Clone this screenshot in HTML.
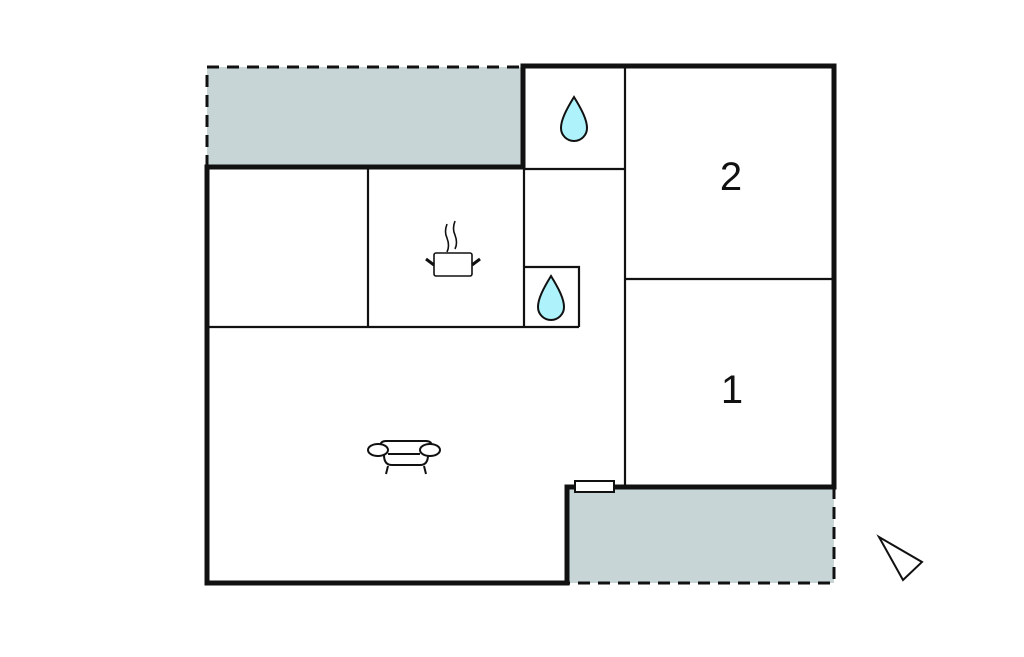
<!DOCTYPE html>
<html><head><style>body{margin:0;background:#fff}</style></head><body>
<svg width="1024" height="652" viewBox="0 0 1024 652" xmlns="http://www.w3.org/2000/svg">
<rect x="207" y="67" width="316" height="100" fill="#c8d5d6"/>
<rect x="567" y="487" width="267" height="96" fill="#c8d5d6"/>
<g stroke="#111" stroke-width="3" stroke-dasharray="12,8" fill="none">
<path d="M207 167 V67 H523"/>
<path d="M834 487 V583 H567"/>
</g>
<g stroke="#111" stroke-width="2.2" fill="none">
<line x1="625" y1="66" x2="625" y2="487"/>
<line x1="368" y1="167" x2="368" y2="327"/>
<line x1="524" y1="167" x2="524" y2="327"/>
<line x1="207" y1="327" x2="579" y2="327"/>
<line x1="524" y1="169" x2="625" y2="169"/>
<path d="M524 267 H579 V327"/>
<line x1="625" y1="279" x2="834" y2="279"/>
</g>
<g stroke="#111" stroke-width="5" fill="none" stroke-linecap="square">
<path d="M207 583 V167 H523 V66 H834 V487 H567 V583 Z"/>
</g>
<rect x="575" y="481" width="39" height="11" fill="#fff" stroke="#111" stroke-width="2"/>
<g stroke="#111" stroke-width="2" fill="#aef3fb">
<path d="M574 97 C566 110 561 120 561 128 A13 13 0 0 0 587 128 C587 120 582 110 574 97 Z"/>
<path d="M551 276 C543 289 538 299 538 307 A13 13 0 0 0 564 307 C564 299 559 289 551 276 Z"/>
</g>
<g stroke="#111" stroke-width="1.6" fill="none">
<rect x="434" y="253" width="38" height="23" rx="2" fill="#fff"/>
<path d="M447 224 q-3 8 0 14 q3 8 0 14 M455 221 q-3 8 0 14 q3 8 0 14"/>
</g>
<g stroke="#111" stroke-width="3"><line x1="434" y1="265" x2="426" y2="259"/><line x1="472" y1="265" x2="480" y2="259"/></g>
<g stroke="#111" stroke-width="2" fill="#fff">
<path d="M380 455 v-8 q0-6 6-6 h40 q6 0 6 6 v8"/>
<path d="M384 455 q0 10 8 10 h28 q8 0 8-10"/>
<ellipse cx="378" cy="450" rx="10" ry="6"/>
<ellipse cx="430" cy="450" rx="10" ry="6"/>
<line x1="388" y1="466" x2="386" y2="474"/><line x1="424" y1="466" x2="426" y2="474"/>
<line x1="388" y1="454" x2="420" y2="454"/>
</g>
<g font-family="Liberation Sans, sans-serif" font-size="40" fill="#111" text-anchor="middle">
<text x="731" y="190">2</text>
<text x="732" y="403">1</text>
</g>
<path d="M879 537 L922 562 L903 580 Z" fill="#fff" stroke="#111" stroke-width="2"/>
</svg>
</body></html>
